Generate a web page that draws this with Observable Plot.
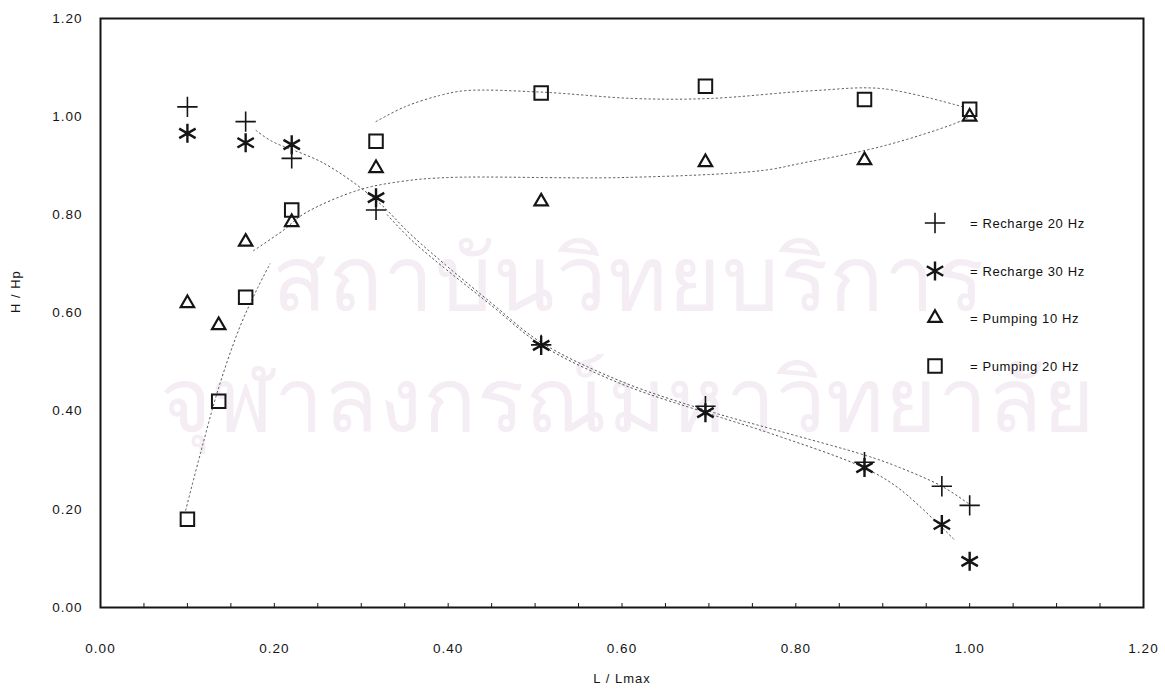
<!DOCTYPE html>
<html>
<head>
<meta charset="utf-8">
<script src="https://cdn.jsdelivr.net/npm/d3@7"></script>
<script src="https://cdn.jsdelivr.net/npm/@observablehq/plot@0.6"></script>
<style>
  html, body { margin: 0; padding: 0; background: #fff; }
  #wrap { position: relative; width: 1165px; height: 691px; font-family: "Liberation Sans", Arial, sans-serif; }
  #legend { position: absolute; left: 0; top: 0; width: 1165px; height: 691px; pointer-events: none; }
  .lg { position: absolute; display: flex; align-items: center; font-size: 13px; letter-spacing: 0.6px; color: #111; white-space: nowrap; }
  .lg svg { overflow: visible; }
</style>
</head>
<body>
<div id="wrap"></div>
<script>
// ---- data ----
const recharge20X = [0.10, 0.167, 0.22, 0.317, 0.507, 0.696, 0.879, 0.968, 1.00];
const recharge20Y = [1.02, 0.99, 0.915, 0.81, 0.535, 0.41, 0.296, 0.247, 0.208];
const recharge30X = [0.10, 0.167, 0.22, 0.317, 0.507, 0.696, 0.879, 0.968, 1.00];
const recharge30Y = [0.966, 0.947, 0.943, 0.835, 0.534, 0.397, 0.285, 0.169, 0.094];
const pumping10X = [0.10, 0.136, 0.167, 0.22, 0.317, 0.507, 0.696, 0.879, 1.00];
const pumping10Y = [0.62, 0.575, 0.745, 0.785, 0.895, 0.827, 0.907, 0.911, 1.00];
const pumping20X = [0.10, 0.136, 0.167, 0.22, 0.317, 0.507, 0.696, 0.879, 1.00];
const pumping20Y = [0.18, 0.42, 0.632, 0.81, 0.95, 1.048, 1.062, 1.035, 1.015];

// dotted fitted curves
const fitR20X = [0.179, 0.196, 0.257, 0.317, 0.36, 0.45, 0.507, 0.60, 0.70, 0.78, 0.88, 0.914, 0.968, 1.00];
const fitR20Y = [0.972, 0.951, 0.905, 0.83, 0.755, 0.62, 0.54, 0.46, 0.40, 0.36, 0.31, 0.289, 0.247, 0.21];
const fitR30X = [0.33, 0.36, 0.45, 0.507, 0.60, 0.70, 0.772, 0.878, 0.919, 0.983];
const fitR30Y = [0.80, 0.745, 0.615, 0.535, 0.455, 0.395, 0.354, 0.285, 0.242, 0.137];
const fitP10X = [0.176, 0.21, 0.234, 0.296, 0.346, 0.40, 0.60, 0.76, 0.806, 0.90, 0.983, 1.00];
const fitP10Y = [0.727, 0.768, 0.802, 0.85, 0.868, 0.876, 0.876, 0.89, 0.905, 0.94, 0.986, 1.00];
const fitP20LowX = [0.098, 0.115, 0.136, 0.160, 0.181, 0.195];
const fitP20LowY = [0.198, 0.314, 0.448, 0.57, 0.652, 0.70];
const fitP20HighX = [0.317, 0.35, 0.39, 0.42, 0.507, 0.614, 0.70, 0.82, 0.90, 0.994];
const fitP20HighY = [0.99, 1.02, 1.043, 1.053, 1.05, 1.037, 1.037, 1.053, 1.057, 1.019];

const xTicks = [0, 0.2, 0.4, 0.6, 0.8, 1.0, 1.2];
const yTicks = [0, 0.2, 0.4, 0.6, 0.8, 1.0, 1.2];
const minorTicks = [0.05,0.1,0.15,0.2,0.25,0.3,0.35,0.4,0.45,0.5,0.55,0.6,0.65,0.7,0.75,0.8,0.85,0.9,0.95,1.0,1.05,1.1,1.15];
const seriesNames = ["Recharge 20 Hz", "Recharge 30 Hz", "Pumping 10 Hz", "Pumping 20 Hz"];
const xLabel = "L / Lmax";
const yLabel = "H / Hp";
const watermarkLines = ["สถาบันวิทยบริการ", "จุฬาลงกรณ์มหาวิทยาลัย"];

// ---- build tables ----
const pts = (xs, ys) => xs.map((x, i) => ({x, y: ys[i]}));
const r20 = pts(recharge20X, recharge20Y);
const r30 = pts(recharge30X, recharge30Y);
const p10 = pts(pumping10X, pumping10Y);
const p20 = pts(pumping20X, pumping20Y);
const fits = [
  pts(fitR20X, fitR20Y), pts(fitR30X, fitR30Y), pts(fitP10X, fitP10Y),
  pts(fitP20LowX, fitP20LowY), pts(fitP20HighX, fitP20HighY)
];

const fmt = d3.format(".2f");
const ink = "#151515";
const sym = {
  plus: {symbol: "plus", r: 6.6, strokeWidth: 1.6},
  asterisk: {symbol: "asterisk", r: 9, strokeWidth: 2.4},
  triangle: {symbol: "triangle2", r: 6.4, strokeWidth: 2.2},
  square: {symbol: "square2", r: 8.6, strokeWidth: 2}
};
const wmColor = "#f4edf4";

const chart = Plot.plot({
  width: 1165, height: 691,
  marginLeft: 100, marginRight: 22, marginTop: 18, marginBottom: 84,
  style: {fontFamily: "Liberation Sans, Arial, sans-serif", fontSize: "13.5px", color: ink, background: "#fff", letterSpacing: "1px"},
  x: {domain: [0, 1.2]},
  y: {domain: [0, 1.2]},
  marks: [
    Plot.text([watermarkLines[0]], {frameAnchor: "top", dx: 6, dy: 228, text: d => d, fontSize: 90, fill: wmColor, textAnchor: "middle", letterSpacing: "0px"}),
    Plot.text([watermarkLines[1]], {frameAnchor: "top", dx: 6, dy: 350, text: d => d, fontSize: 88, fill: wmColor, textAnchor: "middle", letterSpacing: "0px"}),
    Plot.axisX({ticks: xTicks, tickSize: 0, tickPadding: 36, tickFormat: fmt, label: null}),
    Plot.axisX({ticks: minorTicks, tickSize: -4, text: null, label: null, stroke: ink}),
    Plot.axisY({ticks: yTicks, tickSize: 0, tickPadding: 18, tickFormat: fmt, label: null}),
    Plot.text([xLabel], {frameAnchor: "bottom", dy: 75, text: d => d, fontSize: 13}),
    Plot.text([yLabel], {frameAnchor: "left", dx: -85, rotate: -90, text: d => d, fontSize: 13}),
    ...fits.map(f => Plot.line(f, {x: "x", y: "y", curve: "catmull-rom", stroke: "#555", strokeWidth: 1, strokeDasharray: "1.5,3"})),
    Plot.frame({stroke: ink, strokeWidth: 2}),
    Plot.dot(r20, {x: "x", y: "y", stroke: ink, ...sym.plus}),
    Plot.dot(r30, {x: "x", y: "y", stroke: ink, ...sym.asterisk}),
    Plot.dot(p10, {x: "x", y: "y", stroke: ink, ...sym.triangle}),
    Plot.dot(p20, {x: "x", y: "y", stroke: ink, ...sym.square})
  ]
});
const wrap = document.getElementById("wrap");
wrap.appendChild(chart);

// ---- legend (inside the plot, right side) ----
const legend = document.createElement("div");
legend.id = "legend";
wrap.appendChild(legend);
const legendSyms = [
  [d3.symbolPlus, sym.plus], [d3.symbolAsterisk, sym.asterisk],
  [d3.symbolTriangle2, sym.triangle], [d3.symbolSquare2, sym.square]
];
const legendTop = [223, 271, 318, 366];
seriesNames.forEach((name, i) => {
  const [type, s] = legendSyms[i];
  const row = document.createElement("div");
  row.className = "lg";
  row.style.left = "920px";
  row.style.top = (legendTop[i] - 10) + "px";
  row.style.height = "20px";
  const path = d3.symbol(type, Math.PI * s.r * s.r)();
  row.innerHTML = `<svg width="30" height="20"><path transform="translate(15,10)" d="${path}" fill="none" stroke="${ink}" stroke-width="${s.strokeWidth}"/></svg><span style="margin-left:20px">= ${name}</span>`;
  legend.appendChild(row);
});
</script>
</body>
</html>
